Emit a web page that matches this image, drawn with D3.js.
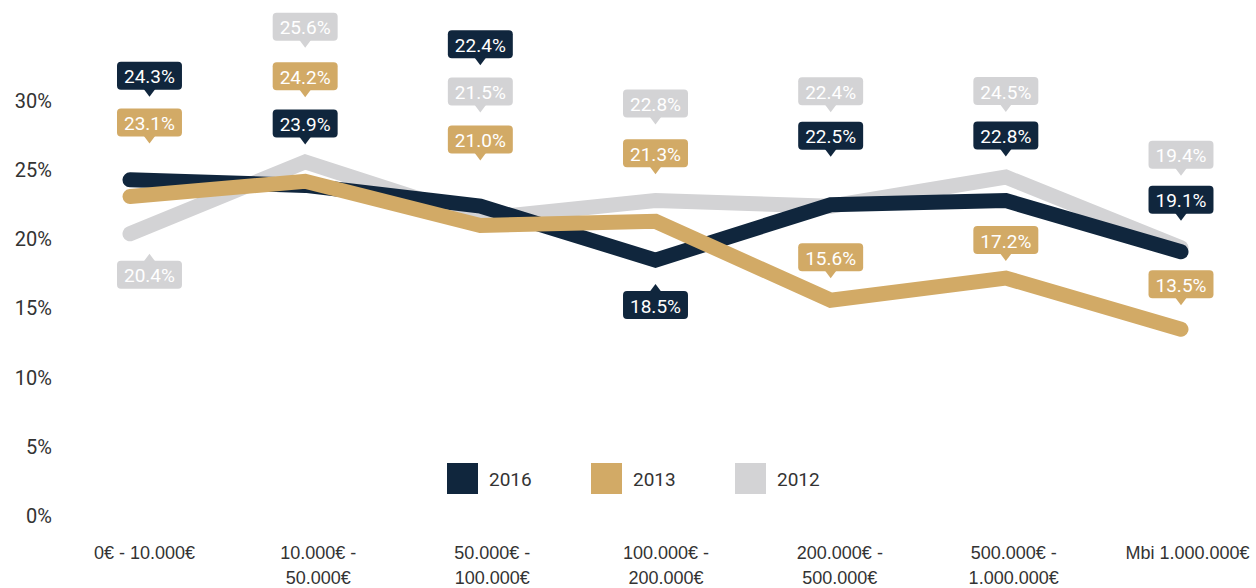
<!DOCTYPE html>
<html>
<head>
<meta charset="utf-8">
<script src="https://cdn.jsdelivr.net/npm/d3@7"></script>
<style>
  body { margin: 0; background: #fff; }
  svg { display: block; font-family: Roboto, "Noto Sans", sans-serif; }
</style>
</head>
<body>
<script>
(function(){

    //categories (income brackets) and values per year
    var categories = ["0€ - 10.000€", "10.000€ - 50.000€", "50.000€ - 100.000€", "100.000€ - 200.000€",
                      "200.000€ - 500.000€", "500.000€ - 1.000.000€", "Mbi 1.000.000€"];
    var tickLines = [["0€ - 10.000€"], ["10.000€ -", "50.000€"], ["50.000€ -", "100.000€"], ["100.000€ -", "200.000€"],
                     ["200.000€ -", "500.000€"], ["500.000€ -", "1.000.000€"], ["Mbi 1.000.000€"]];
    var years = ["2016", "2013", "2012"];
    var values2016 = [24.3, 23.9, 22.4, 18.5, 22.5, 22.8, 19.1];
    var values2013 = [23.1, 24.2, 21.0, 21.3, 15.6, 17.2, 13.5];
    var values2012 = [20.4, 25.6, 21.5, 22.8, 22.4, 24.5, 19.4];
    var yTicks = [0, 5, 10, 15, 20, 25, 30];

    //label placement (vertical offset of the callout text from its point)
    var offsets2016 = [-104, -62, -162, 45, -69, -65, -52];
    var offsets2013 = [-74, -105, -86, -68, -43, -38, -45];
    var offsets2012 = [41, -135, -127, -97, -115, -86, -93];

    var colors = {"2016": "#10263d", "2013": "#d2aa66", "2012": "#d3d3d5"};

    //drawing order: grey at the back, gold on top
    var series = [
        {year: "2012", values: values2012, offsets: offsets2012},
        {year: "2016", values: values2016, offsets: offsets2016},
        {year: "2013", values: values2013, offsets: offsets2013}
    ];

    var width = 1256, height = 588;

    var svg = d3.select("body").append("svg")
        .attr("width", width)
        .attr("height", height);

    //scales
    var y = d3.scaleLinear().domain([0, 30]).range([516, 101]);
    var xLine = d3.scalePoint().domain(categories).range([130, 1181]);
    var xTick = d3.scalePoint().domain(categories).range([144, 1187]);

    //y axis
    var yAxis = svg.append("g")
        .attr("transform", "translate(60,0)")
        .call(d3.axisLeft(y).tickValues(yTicks).tickSize(0).tickPadding(8)
            .tickFormat(function(d){ return d + "%"; }));
    yAxis.select(".domain").remove();
    yAxis.selectAll("text")
        .style("font-size", "20px")
        .style("fill", "#333")
        .style("font-family", "Roboto, sans-serif");

    //x axis
    var xAxis = svg.append("g")
        .attr("transform", "translate(0,540)")
        .call(d3.axisBottom(xTick).tickSize(0).tickFormat(""));
    xAxis.select(".domain").remove();
    xAxis.selectAll(".tick text").remove();
    xAxis.selectAll(".tick").append("text")
        .attr("text-anchor", "middle")
        .style("font-size", "18px")
        .style("fill", "#333")
        .each(function(d, i){
            var t = d3.select(this);
            tickLines[i].forEach(function(line, j){
                t.append("tspan")
                    .attr("x", 0)
                    .attr("y", 19 + j * 25)
                    .text(line);
            });
        });

    //lines
    var line = d3.line()
        .x(function(d, i){ return xLine(categories[i]); })
        .y(function(d){ return y(d); });

    svg.selectAll(".series")
        .data(series)
        .enter()
        .append("path")
        .attr("class", "series")
        .attr("d", function(d){ return line(d.values); })
        .attr("fill", "none")
        .attr("stroke", function(d){ return colors[d.year]; })
        .attr("stroke-width", 15)
        .attr("stroke-linecap", "round")
        .attr("stroke-linejoin", "miter");

    //callout labels
    var boxH = 28, tipW = 12, tipH = 7, plotLeft = 117;
    series.forEach(function(s){
        s.values.forEach(function(v, i){
            var px = xLine(categories[i]),
                py = y(v),
                cy = py + s.offsets[i],
                below = s.offsets[i] > 0;
            var g = svg.append("g").attr("class", "callout");
            var txt = g.append("text")
                .attr("text-anchor", "middle")
                .attr("dominant-baseline", "central")
                .style("font-size", "19px")
                .style("fill", "#fff")
                .text(v.toFixed(1) + "%");
            var w = txt.node().getComputedTextLength() + 14;
            var cx = Math.max(px, plotLeft + w / 2);
            txt.attr("x", cx).attr("y", cy + 1);
            var top = cy - boxH / 2, bottom = cy + boxH / 2;
            g.insert("rect", "text")
                .attr("x", cx - w / 2)
                .attr("y", top)
                .attr("width", w)
                .attr("height", boxH)
                .attr("rx", 4)
                .attr("fill", colors[s.year]);
            var tip = below
                ? [[cx - tipW / 2, top + 1], [cx, top - tipH], [cx + tipW / 2, top + 1]]
                : [[cx - tipW / 2, bottom - 1], [cx, bottom + tipH], [cx + tipW / 2, bottom - 1]];
            g.insert("path", "text")
                .attr("d", d3.line()(tip) + "Z")
                .attr("fill", colors[s.year]);
        });
    });

    //legend
    var legend = svg.selectAll(".legend")
        .data(years)
        .enter()
        .append("g")
        .attr("class", "legend")
        .attr("transform", function(d, i){ return "translate(" + (447 + i * 144) + ",463)"; });
    legend.append("rect")
        .attr("width", 31)
        .attr("height", 31)
        .attr("fill", function(d){ return colors[d]; });
    legend.append("text")
        .attr("x", 42)
        .attr("y", 16)
        .attr("dominant-baseline", "central")
        .style("font-size", "19px")
        .style("fill", "#333")
        .text(function(d){ return d; });
})();
</script>
</body>
</html>
